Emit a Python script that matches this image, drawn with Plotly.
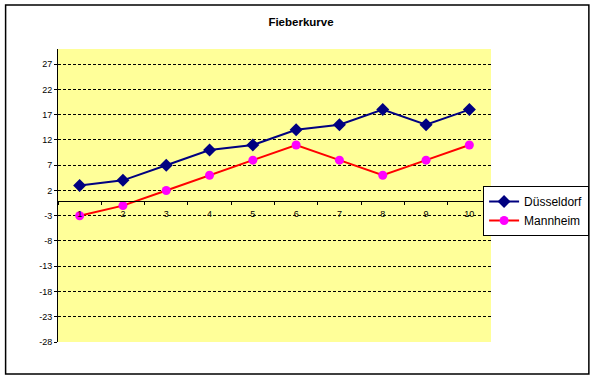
import plotly.graph_objects as go

categories = ["1", "2", "3", "4", "5", "6", "7", "8", "9", "10"]
duesseldorf = [3, 4, 7, 10, 11, 14, 15, 18, 15, 18]
mannheim = [-3, -1, 2, 5, 8, 11, 8, 5, 8, 11]
y_ticks = [-28, -23, -18, -13, -8, -3, 2, 7, 12, 17, 22, 27]
y_tick_labels = [str(v) for v in y_ticks]
y_min, y_max = -28, 30

FONT = "Liberation Sans, Arial, sans-serif"

fig = go.Figure()
fig.add_trace(go.Scatter(
    x=categories, y=duesseldorf, name="Düsseldorf", mode="lines+markers",
    line=dict(color="#000080", width=2),
    marker=dict(symbol="diamond", size=10, color="#000080"),
))
fig.add_trace(go.Scatter(
    x=categories, y=mannheim, name="Mannheim", mode="lines+markers",
    line=dict(color="#FF0000", width=2),
    marker=dict(symbol="circle", size=9, color="#FF00FF"),
))

W, H = 601, 379
L, R, T, B = 58, 105, 49, 37
pw = W - L - R
ph = H - T - B

fig.update_layout(
    width=W, height=H,
    margin=dict(l=L, r=R, t=T, b=B),
    paper_bgcolor="white",
    plot_bgcolor="#FFFF99",
    font=dict(family=FONT, color="black"),
    title=dict(text="<b>Fieberkurve</b>", x=(301 - 0) / W, xanchor="center",
               y=1 - 22 / H, yanchor="middle",
               font=dict(size=11.5, family=FONT, color="black")),
    showlegend=True,
    legend=dict(x=(488 - L) / pw, y=(342 - 186) / ph, xanchor="left", yanchor="top",
                bgcolor="white", bordercolor="black", borderwidth=1,
                font=dict(size=12, family=FONT, color="black"),
                tracegroupgap=0, itemwidth=30),
    xaxis=dict(
        type="category", range=[-0.5, 9.5],
        anchor="free", position=(0 - y_min) / (y_max - y_min),
        showline=True, linecolor="black", linewidth=1,
        ticks="outside", ticklen=3, tickcolor="black", tickson="boundaries",
        ticklabelstandoff=5,
        showgrid=False, zeroline=False,
        tickfont=dict(size=9, family=FONT, color="black"),
    ),
    yaxis=dict(
        range=[y_min, y_max], tickmode="array",
        tickvals=y_ticks, ticktext=y_tick_labels,
        showline=True, linecolor="black", linewidth=1,
        ticks="outside", ticklen=3, tickcolor="black",
        showgrid=False, zeroline=False,
        tickfont=dict(size=9, family=FONT, color="black"),
    ),
    yaxis2=dict(
        overlaying="y", side="left", matches="y",
        range=[y_min, y_max], tickmode="array", tickvals=y_ticks[1:],
        showticklabels=False, ticks="", showline=False,
        showgrid=True, gridcolor="black", gridwidth=1, griddash="3px,2px",
        zeroline=False, layer="below traces",
    ),
    shapes=[dict(type="rect", xref="paper", yref="paper",
                 x0=(5 - L) / pw, x1=(595 - L) / pw,
                 y0=(342 - 374) / ph, y1=(342 - 5) / ph,
                 line=dict(color="black", width=1.5), fillcolor="rgba(0,0,0,0)",
                 layer="below")],
)

# invisible helper trace so the grid axis is drawn
fig.add_trace(go.Scatter(x=[categories[0]], y=[None], yaxis="y2",
                         showlegend=False, hoverinfo="skip"))

fig.write_html("out.html", config={"displayModeBar": False},
               post_script="document.body.style.margin='0';document.body.style.overflow='hidden';")
